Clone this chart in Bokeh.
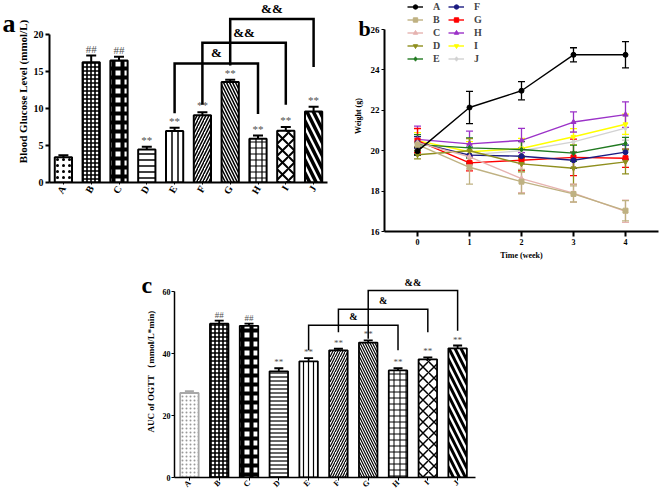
from bokeh.plotting import figure
from bokeh.layouts import column, row
from bokeh.models import (Range1d, FixedTicker, Whisker, TeeHead, ColumnDataSource,
                          Label, Legend, LegendItem, Spacer)
from bokeh.embed import file_html
from bokeh.resources import INLINE
from bokeh.core.properties import value

SERIF = "Liberation Serif"

# ---------------- data ----------------
groups = ["A", "B", "C", "D", "E", "F", "G", "H", "I", "J"]

# panel a: blood glucose (mmol/L)
glucose_mean = [3.4, 16.25, 16.5, 4.47, 6.95, 9.1, 13.6, 5.9, 7.0, 9.6]
glucose_sem = [0.3, 0.9, 0.5, 0.35, 0.45, 0.4, 0.3, 0.45, 0.5, 0.65]
glucose_marks = ["", "##", "##", "**", "**", "**", "**", "**", "**", "**"]
glucose_ticks = [0, 5, 10, 15, 20]
# (left group, right group, bracket level, left leg end, right leg end, label)
glucose_brackets = [("E", "H", 16.1, 9.35, 9.25, "&"),
                    ("F", "I", 18.9, 10.5, 10.5, "&&"),
                    ("G", "J", 22.1, 15.8, 15.6, "&&")]

# panel b: body weight (g) per week
weeks = [0, 1, 2, 3, 4]
weight_ticks = [16, 18, 20, 22, 24, 26]
weight_A = [19.98, 22.14, 22.97, 24.75, 24.75]
weight_B = [20.3, 19.18, 18.47, 17.86, 17.03]
weight_C = [20.4, 19.7, 18.62, 17.9, 17.0]
weight_D = [19.8, 20.0, 19.35, 19.13, 19.45]
weight_E = [20.3, 20.14, 20.06, 19.88, 20.36]
weight_F = [20.4, 19.78, 19.73, 19.53, 19.93]
weight_G = [20.5, 19.4, 19.53, 19.67, 19.63]
weight_H = [20.56, 20.34, 20.51, 21.42, 21.79]
weight_I = [20.5, 19.95, 20.11, 20.69, 21.31]
weight_J = [20.4, 19.8, 20.0, 20.44, 21.12]
weight_err_A = [0.2, 0.8, 0.45, 0.35, 0.65]
weight_err_B = [0.15, 0.83, 0.6, 0.4, 0.5]
weight_err_C = [0.2, 0.6, 0.7, 0.45, 0.55]
weight_err_D = [0.2, 0.6, 0.4, 0.8, 0.6]
weight_err_E = [0.5, 0.5, 0.4, 0.4, 0.3]
weight_err_F = [0.3, 0.4, 0.4, 0.4, 0.35]
weight_err_G = [0.6, 0.4, 0.5, 0.9, 0.45]
weight_err_H = [0.66, 0.63, 0.6, 0.5, 0.63]
weight_err_I = [0.4, 0.5, 0.5, 0.4, 0.5]
weight_err_J = [0.3, 0.5, 0.4, 0.5, 0.6]

# panel c: AUC of OGTT (mmol/L*min)
auc_mean = [27.3, 49.7, 49.0, 34.3, 37.55, 41.1, 43.6, 34.6, 38.2, 41.75]
auc_sem = [0.6, 1.0, 0.7, 1.0, 1.0, 0.5, 0.7, 0.7, 0.6, 0.9]
auc_marks = ["", "##", "##", "**", "**", "**", "**", "**", "**", "**"]
auc_ticks = [0, 20, 40, 60]
auc_brackets = [("E", "H", 49.2, 41.1, 41.1, "&"),
                ("F", "I", 54.4, 46.9, 46.9, "&"),
                ("G", "J", 60.4, 44.8, 47.4, "&&")]

weights = {"A": weight_A, "B": weight_B, "C": weight_C, "D": weight_D, "E": weight_E,
           "F": weight_F, "G": weight_G, "H": weight_H, "I": weight_I, "J": weight_J}
weight_errs = {"A": weight_err_A, "B": weight_err_B, "C": weight_err_C, "D": weight_err_D,
               "E": weight_err_E, "F": weight_err_F, "G": weight_err_G, "H": weight_err_H,
               "I": weight_err_I, "J": weight_err_J}

# ---------------- styles ----------------
xpos = [i + 0.5 for i in range(len(groups))]
xmap = dict(zip(groups, xpos))

bar_styles_a = [
    dict(line="black", pattern="dot", scale=6, weight=1.6, hcolor="black"),
    dict(line="black", pattern="cross", scale=4, weight=1.6, hcolor="black"),
    dict(line="black", pattern="cross", scale=9, weight=4.0, hcolor="black"),
    dict(line="black", pattern="horizontal_line", scale=6, weight=1.5, hcolor="black"),
    dict(line="black", pattern="vertical_line", scale=6, weight=1.5, hcolor="black"),
    dict(line="black", pattern="right_diagonal_line", scale=6, weight=1.5, hcolor="black"),
    dict(line="black", pattern="left_diagonal_line", scale=6, weight=1.5, hcolor="black"),
    dict(line="black", pattern="cross", scale=6, weight=1.2, hcolor="black"),
    dict(line="black", pattern="diagonal_cross", scale=12, weight=2.0, hcolor="black"),
    dict(line="black", pattern="left_diagonal_line", scale=13, weight=3.5, hcolor="black"),
]
bar_styles_c = [
    dict(line="#a8a8a8", pattern="dot", scale=4, weight=1.2, hcolor="#999999"),
    dict(line="black", pattern="cross", scale=4, weight=1.6, hcolor="black"),
    dict(line="black", pattern="cross", scale=9, weight=4.0, hcolor="black"),
    dict(line="black", pattern="horizontal_line", scale=4, weight=1.2, hcolor="black"),
    dict(line="black", pattern="vertical_line", scale=5, weight=1.2, hcolor="black"),
    dict(line="black", pattern="right_diagonal_line", scale=5, weight=1.2, hcolor="black"),
    dict(line="black", pattern="left_diagonal_line", scale=5, weight=1.2, hcolor="black"),
    dict(line="black", pattern="cross", scale=6, weight=1.0, hcolor="black"),
    dict(line="black", pattern="diagonal_cross", scale=11, weight=1.5, hcolor="black"),
    dict(line="black", pattern="left_diagonal_line", scale=12, weight=3.0, hcolor="black"),
]

series_style = {
    "A": ("black", "circle"),
    "B": ("#bfb182", "square"),
    "C": ("#e6b3b0", "triangle"),
    "D": ("#8f8f1e", "inverted_triangle"),
    "E": ("#217a21", "diamond"),
    "F": ("#1c1c82", "circle"),
    "G": ("#ff0000", "square"),
    "H": ("#9b32c8", "triangle"),
    "I": ("#ffff00", "inverted_triangle"),
    "J": ("#d2d2d2", "diamond"),
}


def clean(p):
    p.xgrid.visible = False
    p.ygrid.visible = False
    p.outline_line_color = None
    p.background_fill_color = "white"
    p.border_fill_color = "white"
    for ax in p.xaxis + p.yaxis:
        ax.minor_tick_line_color = None
        ax.major_tick_in = 0
        ax.axis_line_color = "black"
        ax.major_tick_line_color = "black"
        ax.major_label_text_font = SERIF
        ax.major_label_text_font_style = "bold"
        ax.major_label_text_color = "black"
        ax.axis_label_text_font = SERIF
        ax.axis_label_text_font_style = "bold"
        ax.axis_label_text_color = "black"


def bar_panel(p, means, sems, marks, brackets, styles, lw, head, mark_px, amp_px, blw):
    for i, g in enumerate(groups):
        st = styles[i]
        p.vbar(x=[xpos[i]], top=[means[i]], bottom=0, width=0.62, fill_color="white",
               line_color=st["line"], line_width=lw, hatch_pattern=st["pattern"],
               hatch_scale=st["scale"], hatch_weight=st["weight"], hatch_color=st["hcolor"])
        src = ColumnDataSource(dict(x=[xpos[i]], lo=[means[i]], hi=[means[i] + sems[i]]))
        p.add_layout(Whisker(source=src, base="x", lower="lo", upper="hi", dimension="height",
                             line_color=st["line"], line_width=lw,
                             upper_head=TeeHead(size=head, line_width=lw, line_color=st["line"]),
                             lower_head=None))
    tops = [m + s for m, s in zip(means, sems)]
    p.text(x=xpos, y=tops, text=marks, text_font=value(SERIF), text_font_size=mark_px,
           text_align="center", text_baseline="bottom", text_color="#505050", y_offset=-1)
    for g1, g2, level, leg1, leg2, lab in brackets:
        p.line(x=[xmap[g1], xmap[g1], xmap[g2], xmap[g2]], y=[leg1, level, level, leg2],
               line_color="black", line_width=blw, line_join="miter")
        p.text(x=[(xmap[g1] + xmap[g2]) / 2], y=[level], text=[lab], text_font=value(SERIF),
               text_font_style="bold", text_font_size=amp_px, text_align="center",
               text_baseline="bottom", text_color="black", y_offset=-3)


def cat_axis(p, orient):
    p.xaxis.ticker = FixedTicker(ticks=xpos)
    p.xaxis.major_label_overrides = {x: g for x, g in zip(xpos, groups)}
    p.xaxis.major_label_orientation = orient


def side_letter(p, x, y, txt, size):
    p.add_layout(Label(x=x, y=y, x_units="screen", y_units="screen", text=txt,
                       text_font=SERIF, text_font_style="bold", text_font_size=size,
                       text_baseline="alphabetic", text_color="black"), "left")


# ---------------- panel a ----------------
pa = figure(width=335, height=262, output_backend="svg", toolbar_location=None,
            x_range=Range1d(0, 10), y_range=Range1d(0, 24.6), frame_align=False,
            min_border_left=35, min_border_right=8, min_border_top=0, min_border_bottom=80)
clean(pa)
pa.yaxis.ticker = FixedTicker(ticks=glucose_ticks)
pa.yaxis.bounds = (0, 20)
pa.yaxis.axis_label = "Blood Glucose Level (mmol/L)"
pa.yaxis.axis_label_text_font_size = "11px"
pa.yaxis.major_label_text_font_size = "10px"
pa.yaxis.axis_label_standoff = 2
pa.yaxis.major_label_standoff = 2
pa.yaxis.major_tick_out = 4
pa.yaxis.axis_line_width = 2
pa.yaxis.major_tick_line_width = 2
cat_axis(pa, 1.05)
pa.xaxis.major_label_text_font_size = "10px"
pa.xaxis.major_tick_out = 2
pa.xaxis.major_label_standoff = 2
pa.xaxis.axis_line_width = 2
bar_panel(pa, glucose_mean, glucose_sem, glucose_marks, glucose_brackets, bar_styles_a,
          2, 10, "11px", "13px", 2.5)
side_letter(pa, 2, 159, "a", "26px")

# ---------------- panel b ----------------
pb = figure(width=326, height=262, output_backend="svg", toolbar_location=None,
            x_range=Range1d(-0.635, 4.635), y_range=Range1d(16, 27.44), frame_align=False,
            min_border_left=49, min_border_right=3, min_border_top=0, min_border_bottom=31)
clean(pb)
pb.yaxis.ticker = FixedTicker(ticks=weight_ticks)
pb.yaxis.bounds = (16, 26)
pb.yaxis.axis_label = "Weight (g)"
pb.yaxis.axis_label_text_font_size = "8px"
pb.yaxis.major_label_text_font_size = "9px"
pb.yaxis.major_tick_out = 3
pb.yaxis.major_label_standoff = 2
pb.yaxis.axis_label_standoff = 5
pb.yaxis.axis_line_width = 2
pb.xaxis.ticker = FixedTicker(ticks=weeks)
pb.xaxis.axis_label = "Time (week)"
pb.xaxis.axis_label_text_font_size = "8px"
pb.xaxis.major_label_text_font_size = "8px"
pb.xaxis.major_tick_out = 5
pb.xaxis.major_label_standoff = 2
pb.xaxis.axis_label_standoff = 3
pb.xaxis.axis_line_width = 2
pb.xaxis.major_tick_line_width = 2

items = {}
for g in reversed(groups):
    col, mk = series_style[g]
    m = weights[g]
    e = weight_errs[g]
    src = ColumnDataSource(dict(x=weeks, lo=[a - b for a, b in zip(m, e)],
                                hi=[a + b for a, b in zip(m, e)]))
    pb.add_layout(Whisker(source=src, base="x", lower="lo", upper="hi", dimension="height",
                          line_color=col, line_width=1.3,
                          upper_head=TeeHead(size=7, line_width=1.3, line_color=col),
                          lower_head=TeeHead(size=7, line_width=1.3, line_color=col)))
    lr = pb.line(weeks, m, line_color=col, line_width=1.4)
    sr = pb.scatter(weeks, m, marker=mk, size=5, fill_color=col, line_color=col)
    items[g] = LegendItem(label=g, renderers=[lr, sr])

for k, sub in enumerate([groups[:5], groups[5:]]):
    leg = Legend(items=[items[g] for g in sub], location=(23 + 41 * k, 167),
                 background_fill_alpha=0, border_line_color=None,
                 label_text_font=SERIF, label_text_font_style="bold",
                 label_text_font_size="10px", glyph_width=16, glyph_height=11,
                 label_height=11, spacing=2, padding=0, margin=0, label_standoff=10)
    pb.add_layout(leg)
side_letter(pb, 20, 203, "b", "22px")

# ---------------- panel c ----------------
pc = figure(width=370, height=233, output_backend="svg", toolbar_location=None,
            x_range=Range1d(0, 10.1), y_range=Range1d(0, 68.5), frame_align=False,
            min_border_left=54, min_border_right=15, min_border_top=3, min_border_bottom=13)
clean(pc)
pc.yaxis.ticker = FixedTicker(ticks=auc_ticks)
pc.yaxis.bounds = (0, 60)
pc.yaxis.axis_label = "AUC of OGTT （mmol/L*min)"
pc.yaxis.axis_label_text_font_size = "9px"
pc.yaxis.major_label_text_font_size = "8px"
pc.yaxis.major_tick_out = 3
pc.yaxis.major_label_standoff = 1
pc.yaxis.axis_label_standoff = 4
pc.yaxis.axis_line_width = 1.5
cat_axis(pc, 0.8)
pc.xaxis.major_label_text_font_size = "8px"
pc.xaxis.major_tick_out = 3
pc.xaxis.major_label_standoff = 1
pc.xaxis.axis_line_width = 1.5
bar_panel(pc, auc_mean, auc_sem, auc_marks, auc_brackets, bar_styles_c,
          1.8, 9, "9px", "10px", 1.5)
side_letter(pc, 10, 193, "c", "24px")

layout = column(row(pa, pb), row(Spacer(width=120, height=233), pc))
open("out.html", "w").write(file_html(layout, INLINE))
